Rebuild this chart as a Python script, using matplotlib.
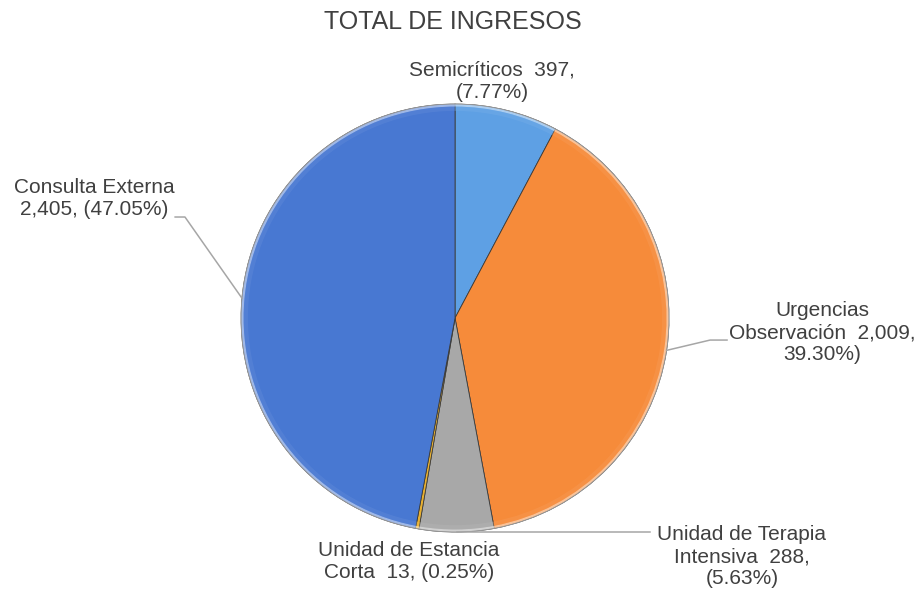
import matplotlib

matplotlib.use("Agg")
import matplotlib.pyplot as plt
import numpy as np

plt.rcParams["font.family"] = ["Liberation Sans", "DejaVu Sans"]

# datos (sentido horario desde las 12)
servicios = ["Semicríticos", "Urgencias Observación", "Unidad de Terapia Intensiva",
             "Unidad de Estancia Corta", "Consulta Externa"]
ingresos = [397, 2009, 288, 13, 2405]
etiquetas = [
    "Semicríticos  397,\n(7.77%)",
    "Urgencias\nObservación  2,009,\n39.30%)",
    "Unidad de Terapia\nIntensiva  288,\n(5.63%)",
    "Unidad de Estancia\nCorta  13, (0.25%)",
    "Consulta Externa\n2,405, (47.05%)",
]
colores = ["#5EA0E4", "#F68B3A", "#A8A8A8", "#E8B030", "#4878D2"]

TXT = "#404040"
GUIA = "#A6A6A6"

fig = plt.figure(figsize=(9.2, 5.91), dpi=100)
ax = fig.add_axes([0.262, 0.0998, 0.4652, 0.7242])

wedges, _ = ax.pie(ingresos, colors=colores, startangle=90, counterclock=False,
                   radius=1.0, wedgeprops=dict(edgecolor="#3a3a3a", linewidth=0.6))


# borde biselado: anillo exterior mas claro
def aclarar(c, f):
    rgb = np.array(matplotlib.colors.to_rgb(c))
    return tuple(rgb + (1 - rgb) * f)


ax.pie(ingresos, colors=[aclarar(c, 0.6) for c in colores], startangle=90,
       counterclock=False, radius=1.0,
       wedgeprops=dict(width=0.012, edgecolor="none", alpha=0.8))
ax.pie(ingresos, colors=[aclarar(c, 0.15) for c in colores], startangle=90,
       counterclock=False, radius=0.988,
       wedgeprops=dict(width=0.02, edgecolor="none", alpha=0.4))
ax.add_patch(plt.Circle((0, 0), 1.0, fill=False, edgecolor="#9a9a9a", linewidth=0.6))

ax.set_xlim(-1, 1)
ax.set_ylim(-1, 1)
ax.set_aspect("equal")
ax.axis("off")


def borde(w):
    ang = np.deg2rad((w.theta1 + w.theta2) / 2)
    return np.cos(ang), np.sin(ang)


# lineas guia
x0, y0 = borde(wedges[4])
ax.plot([x0, -1.262, -1.308], [y0, 0.472, 0.472], color=GUIA, lw=1.1, clip_on=False)
x0, y0 = borde(wedges[1])
ax.plot([x0, 1.192, 1.271], [y0, -0.103, -0.103], color=GUIA, lw=1.1, clip_on=False)
x0, y0 = borde(wedges[2])
ax.plot([x0, 0.911], [y0, y0], color=GUIA, lw=1.1, clip_on=False)

pos = [(0.173, 1.107), (1.715, -0.07), (1.341, -1.115), (-0.215, -1.14), (-1.687, 0.56)]
for (px, py), txt in zip(pos, etiquetas):
    ax.text(px, py, txt, ha="center", va="center", fontsize=15, color=TXT,
            linespacing=1.2, clip_on=False)

fig.text(0.4924, 0.9628, "TOTAL DE INGRESOS", ha="center", va="center",
         fontsize=18, color=TXT)

fig.savefig("out.png", dpi=100, facecolor="white")
